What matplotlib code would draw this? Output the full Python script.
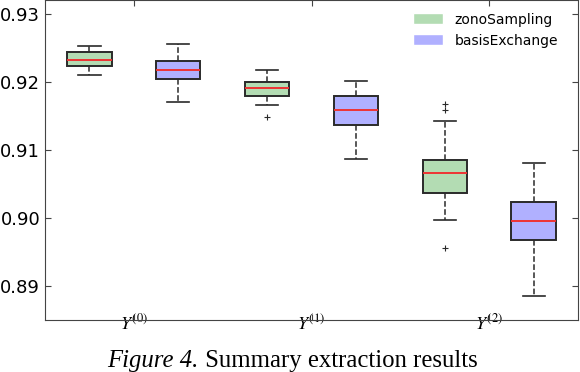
import matplotlib
matplotlib.use('Agg')
import matplotlib.pyplot as plt
import matplotlib.patches as mpatches

plt.rcParams['mathtext.fontset'] = 'stix'

# groups and series
groups = [r'$Y^{(0)}$', r'$Y^{(1)}$', r'$Y^{(2)}$']
series = ['zonoSampling', 'basisExchange']
colors = ['#b3dcb3', '#b0b0ff']

# five-number summaries: whislo, q1, med, q3, whishi
zono = [
    [0.92099, 0.92225, 0.92319, 0.92431, 0.92519],
    [0.91657, 0.91790, 0.91907, 0.91990, 0.92166],
    [0.89971, 0.90372, 0.90652, 0.90853, 0.91416],
]
zono_fliers = [[], [0.91485], [0.91672, 0.91584, 0.89554]]

basis = [
    [0.91706, 0.92034, 0.92166, 0.92299, 0.92549],
    [0.90868, 0.91363, 0.91588, 0.91784, 0.92004],
    [0.88857, 0.89672, 0.89960, 0.90235, 0.90813],
]
basis_fliers = [[], [], []]


def make_stats(rows, fl):
    out = []
    for r, f in zip(rows, fl):
        out.append(dict(whislo=r[0], q1=r[1], med=r[2], q3=r[3], whishi=r[4], fliers=f))
    return out


fig = plt.figure(figsize=(5.8, 3.72), dpi=100)
ax = fig.add_axes([0.0776, 0.1398, 0.919, 0.8602])

pos = [1, 2, 3]
for k, (rows, fl) in enumerate([(zono, zono_fliers), (basis, basis_fliers)]):
    off = -0.25 if k == 0 else 0.25
    ax.bxp(make_stats(rows, fl), positions=[p + off for p in pos], widths=0.25,
           patch_artist=True, manage_ticks=False,
           boxprops=dict(facecolor=colors[k], edgecolor='#2a2a2a', linewidth=1.4),
           medianprops=dict(color='#ee3333', linewidth=1.4),
           whiskerprops=dict(color='#2a2a2a', linestyle='--', linewidth=1.1),
           capprops=dict(color='#2a2a2a', linewidth=1.2),
           flierprops=dict(marker='+', markeredgecolor='#2a2a2a', markersize=5,
                           markeredgewidth=0.8, linewidth=0))

ax.set_xlim(0.5, 3.5)
ax.set_ylim(0.885, 0.932)
ax.set_xticks(pos)
ax.set_xticklabels(groups, fontsize=16)
ax.set_yticks([0.89, 0.90, 0.91, 0.92, 0.93])
ax.set_yticklabels(['0.89', '0.90', '0.91', '0.92', '0.93'])
ax.tick_params(direction='in', top=True, right=True, length=4, labelsize=13, color='#444444')
ax.tick_params(axis='x', pad=-4.5)
for s in ax.spines.values():
    s.set_color('#444444')

handles = [mpatches.Patch(facecolor=colors[i], edgecolor='white', label=series[i]) for i in range(2)]
ax.legend(handles=handles, loc='upper right', bbox_to_anchor=(0.973, 0.978), frameon=False,
          fontsize=10, handlelength=2.2, handleheight=0.8, borderaxespad=0.0)

# caption: italic "Figure 4." followed by roman text, centred as a whole
fig.canvas.draw()
r = fig.canvas.get_renderer()
t1 = fig.text(0, 0.013, 'Figure 4.', fontsize=17.8, family='Liberation Serif', style='italic',
              va='baseline')
t2 = fig.text(0, 0.013, '\u00a0Summary extraction results', fontsize=17.8,
              family='Liberation Serif', va='baseline')
w1 = t1.get_window_extent(r).width / fig.bbox.width
w2 = t2.get_window_extent(r).width / fig.bbox.width
x0 = 0.504 - (w1 + w2) / 2
t1.set_x(x0)
t2.set_x(x0 + w1)

fig.savefig('out.png', dpi=100)
